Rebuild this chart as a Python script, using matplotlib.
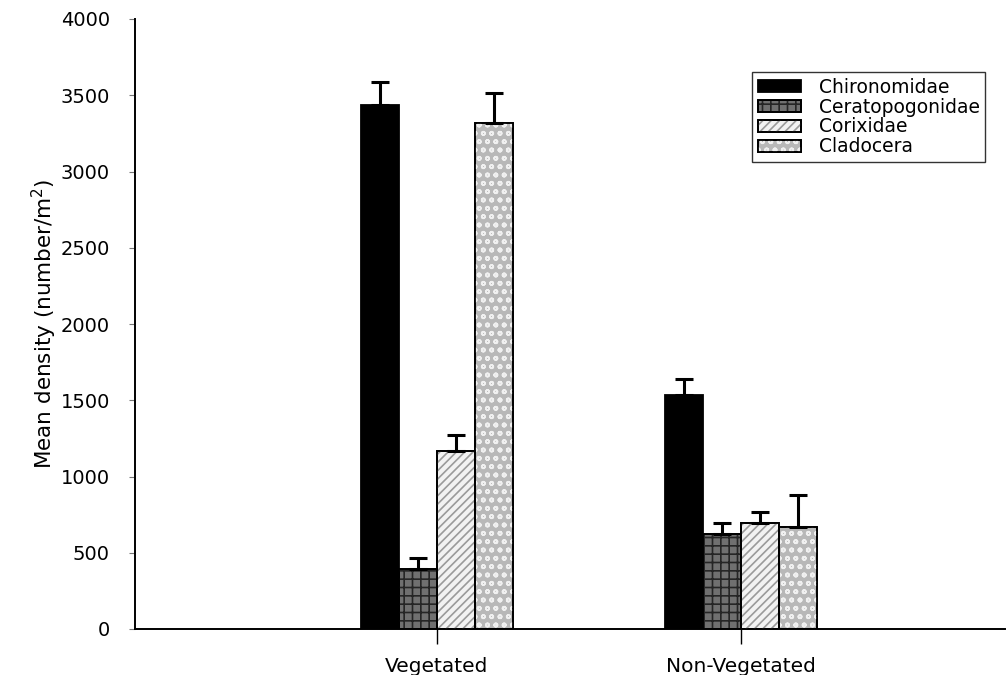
import matplotlib
matplotlib.use("Agg")
import matplotlib.pyplot as plt
import numpy as np

groups = ["Vegetated", "Non-Vegetated"]
taxa = ["Chironomidae", "Ceratopogonidae", "Corixidae", "Cladocera"]
means = {
    "Chironomidae": [3436, 1534],
    "Ceratopogonidae": [393, 623],
    "Corixidae": [1167, 695],
    "Cladocera": [3318, 669],
}
errors = {
    "Chironomidae": [151, 105],
    "Ceratopogonidae": [72, 72],
    "Corixidae": [105, 72],
    "Cladocera": [197, 210],
}
yticks = [0, 500, 1000, 1500, 2000, 2500, 3000, 3500, 4000]

styles = {
    "Chironomidae": dict(face="#000000", hatch=None, hcol=None),
    "Ceratopogonidae": dict(face="#707070", hatch="++", hcol="#262626"),
    "Corixidae": dict(face="#f2f2f2", hatch="////", hcol="#9a9a9a"),
    "Cladocera": dict(face="#b8b8b8", hatch="oo", hcol="#f0f0f0"),
}

plt.rcParams["font.family"] = ["DejaVu Sans"]
plt.rcParams["hatch.linewidth"] = 1.2

fig = plt.figure(figsize=(10.07, 6.75), dpi=100)
ax = fig.add_axes([135 / 1007, 1 - 629 / 675, (1005 - 135) / 1007, (629 - 19) / 675])

x = np.arange(len(groups))
w = 0.125
handles = []
for i, t in enumerate(taxa):
    pos = x + (i - 1.5) * w
    st = styles[t]
    b1 = ax.bar(pos, means[t], width=w, color=st["face"], edgecolor="black",
                linewidth=1.3, zorder=2)
    h = b1
    if st["hatch"]:
        b2 = ax.bar(pos, means[t], width=w, color="none", edgecolor=st["hcol"],
                    hatch=st["hatch"], linewidth=0, zorder=3)
        b3 = ax.bar(pos, means[t], width=w, color="none", edgecolor="black",
                    linewidth=1.3, zorder=4)
        h = (b1, b2, b3)
    ax.errorbar(pos, means[t], yerr=[np.zeros(len(groups)), errors[t]], fmt="none",
                ecolor="black", elinewidth=2.2, capsize=6.5, capthick=2.2, zorder=5)
    handles.append(h)

ax.set_xlim(-0.993, 1.868)
ax.set_ylim(0, 4000)
ax.set_yticks(yticks)
ax.set_yticklabels([str(v) for v in yticks], fontsize=14)
ax.set_xticks(x)
ax.set_xticklabels(groups, fontsize=14.5)
ax.tick_params(axis="x", direction="out", length=11, width=1, pad=9, colors="black")
ax.tick_params(axis="y", direction="out", length=4, width=0.8, pad=14, color="#777777")
for s in ["top", "right"]:
    ax.spines[s].set_visible(False)
for s in ["left", "bottom"]:
    ax.spines[s].set_linewidth(1.4)
ax.set_ylabel("Mean density (number/m$^{2}$)", fontsize=15.5, labelpad=1)

leg = ax.legend(handles, taxa, loc="upper left", bbox_to_anchor=(752 / 1007, 1 - 72 / 675),
                bbox_transform=fig.transFigure, fontsize=13.5, frameon=True, fancybox=False,
                edgecolor="black", borderpad=0.3, labelspacing=0.05, handlelength=2.3,
                handleheight=0.65, handletextpad=0.95, borderaxespad=0)
leg.get_frame().set_linewidth(1.0)

fig.savefig("out.png", dpi=100)
